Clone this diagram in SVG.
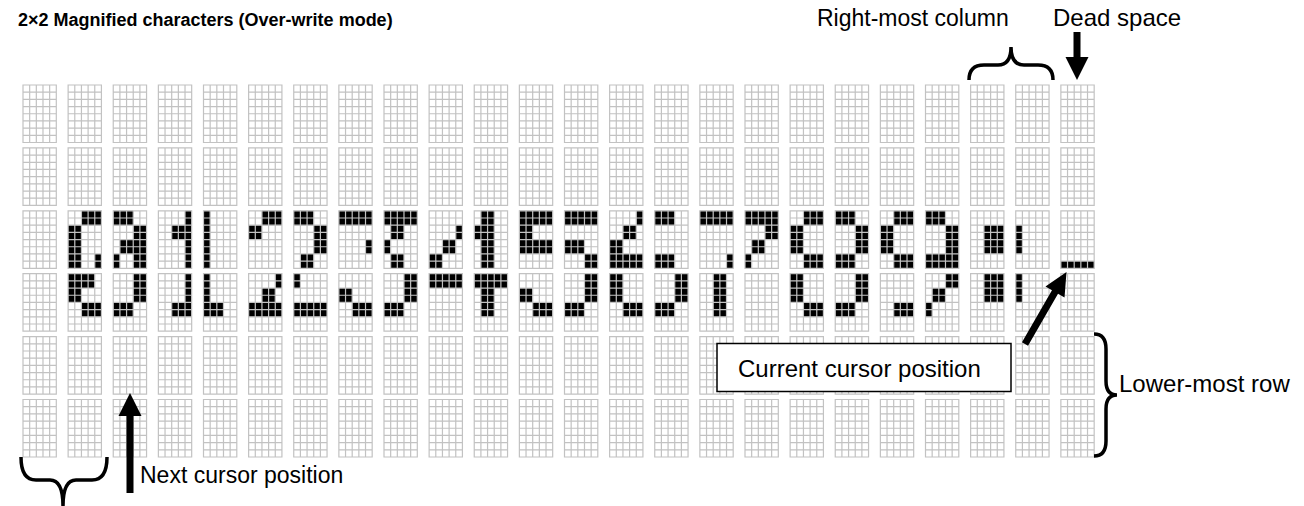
<svg xmlns="http://www.w3.org/2000/svg" xmlns:xlink="http://www.w3.org/1999/xlink" width="1304" height="506" viewBox="0 0 1304 506">
<style>
.gl{fill:none;stroke:#c2c2c2;stroke-width:1.2}
.dot{fill:#000}
.t{font-family:"Liberation Sans",Arial,sans-serif;font-size:23px;fill:#000}
.l24{font-size:24px}
.title{font-weight:bold;font-size:18px}
.br{fill:none;stroke:#000;stroke-width:3.5}
.ar{fill:#000}
.box{fill:#fff;stroke:#000;stroke-width:1.5}
</style>
<defs>
<path id="cg" class="gl" d="M0 0H33.3V57.5H0ZM6.66 0V57.5M13.32 0V57.5M19.98 0V57.5M26.64 0V57.5M0 7.19H33.3M0 14.38H33.3M0 21.56H33.3M0 28.75H33.3M0 35.94H33.3M0 43.13H33.3M0 50.31H33.3"/>
<g id="gridrow">
<use href="#cg" x="23"/><use href="#cg" x="68.125"/><use href="#cg" x="113.25"/><use href="#cg" x="158.375"/><use href="#cg" x="203.5"/><use href="#cg" x="248.625"/><use href="#cg" x="293.75"/><use href="#cg" x="338.875"/><use href="#cg" x="384"/><use href="#cg" x="429.125"/><use href="#cg" x="474.25"/><use href="#cg" x="519.375"/><use href="#cg" x="564.5"/><use href="#cg" x="609.625"/><use href="#cg" x="654.75"/><use href="#cg" x="699.875"/><use href="#cg" x="745"/><use href="#cg" x="790.125"/><use href="#cg" x="835.25"/><use href="#cg" x="880.375"/><use href="#cg" x="925.5"/><use href="#cg" x="970.625"/><use href="#cg" x="1015.75"/><use href="#cg" x="1060.875"/>
</g>
</defs>
<rect width="1304" height="506" fill="#fff"/>
<g id="characters" class="dot">
<g id="char-0">
<path transform="translate(68.125 210.8) scale(6.66 7.1875)" d="M2 0h3v2h-3zM0 2h2v6h-2zM4 6h1v2h-1z"/>
<path transform="translate(113.25 210.8) scale(6.66 7.1875)" d="M0 0h3v2h-3zM3 2h2v2h-2zM1 4h4v2h-4zM0 6h1v2h-1zM3 6h2v2h-2z"/>
<path transform="translate(68.125 273.7) scale(6.66 7.1875)" d="M0 0h4v2h-4zM0 2h2v2h-2zM2 4h3v2h-3z"/>
<path transform="translate(113.25 273.7) scale(6.66 7.1875)" d="M3 0h2v4h-2zM0 4h3v2h-3z"/>
</g>
<g id="char-1">
<path transform="translate(158.375 210.8) scale(6.66 7.1875)" d="M4 0h1v8h-1zM2 2h2v2h-2z"/>
<path transform="translate(203.5 210.8) scale(6.66 7.1875)" d="M0 0h1v8h-1z"/>
<path transform="translate(158.375 273.7) scale(6.66 7.1875)" d="M4 0h1v6h-1zM2 4h2v2h-2z"/>
<path transform="translate(203.5 273.7) scale(6.66 7.1875)" d="M0 0h1v6h-1zM1 4h2v2h-2z"/>
</g>
<g id="char-2">
<path transform="translate(248.625 210.8) scale(6.66 7.1875)" d="M2 0h3v2h-3zM0 2h2v2h-2z"/>
<path transform="translate(293.75 210.8) scale(6.66 7.1875)" d="M0 0h3v2h-3zM3 2h2v4h-2zM1 6h2v2h-2z"/>
<path transform="translate(248.625 273.7) scale(6.66 7.1875)" d="M4 0h1v2h-1zM2 2h2v2h-2zM0 4h5v2h-5z"/>
<path transform="translate(293.75 273.7) scale(6.66 7.1875)" d="M0 0h1v2h-1zM0 4h5v2h-5z"/>
</g>
<g id="char-3">
<path transform="translate(338.875 210.8) scale(6.66 7.1875)" d="M0 0h5v2h-5zM4 4h1v2h-1z"/>
<path transform="translate(384 210.8) scale(6.66 7.1875)" d="M0 0h5v2h-5zM1 2h2v2h-2zM0 4h1v2h-1zM1 6h2v2h-2z"/>
<path transform="translate(338.875 273.7) scale(6.66 7.1875)" d="M0 2h2v2h-2zM2 4h3v2h-3z"/>
<path transform="translate(384 273.7) scale(6.66 7.1875)" d="M3 0h2v4h-2zM0 4h3v2h-3z"/>
</g>
<g id="char-4">
<path transform="translate(429.125 210.8) scale(6.66 7.1875)" d="M4 2h1v2h-1zM2 4h2v2h-2zM0 6h2v2h-2z"/>
<path transform="translate(474.25 210.8) scale(6.66 7.1875)" d="M1 0h2v8h-2zM0 2h1v2h-1z"/>
<path transform="translate(429.125 273.7) scale(6.66 7.1875)" d="M0 0h5v2h-5z"/>
<path transform="translate(474.25 273.7) scale(6.66 7.1875)" d="M0 0h5v2h-5zM1 2h2v4h-2z"/>
</g>
<g id="char-5">
<path transform="translate(519.375 210.8) scale(6.66 7.1875)" d="M0 0h5v2h-5zM0 2h2v2h-2zM0 4h5v2h-5z"/>
<path transform="translate(564.5 210.8) scale(6.66 7.1875)" d="M0 0h5v2h-5zM0 4h3v2h-3zM3 6h2v2h-2z"/>
<path transform="translate(519.375 273.7) scale(6.66 7.1875)" d="M0 2h2v2h-2zM2 4h3v2h-3z"/>
<path transform="translate(564.5 273.7) scale(6.66 7.1875)" d="M3 0h2v4h-2zM0 4h3v2h-3z"/>
</g>
<g id="char-6">
<path transform="translate(609.625 210.8) scale(6.66 7.1875)" d="M4 0h1v2h-1zM2 2h2v2h-2zM0 4h2v2h-2zM0 6h5v2h-5z"/>
<path transform="translate(654.75 210.8) scale(6.66 7.1875)" d="M0 0h3v2h-3zM0 6h3v2h-3z"/>
<path transform="translate(609.625 273.7) scale(6.66 7.1875)" d="M0 0h2v4h-2zM2 4h3v2h-3z"/>
<path transform="translate(654.75 273.7) scale(6.66 7.1875)" d="M3 0h2v4h-2zM0 4h3v2h-3z"/>
</g>
<g id="char-7">
<path transform="translate(699.875 210.8) scale(6.66 7.1875)" d="M0 0h5v2h-5zM4 6h1v2h-1z"/>
<path transform="translate(745 210.8) scale(6.66 7.1875)" d="M0 0h5v2h-5zM3 2h2v2h-2zM1 4h2v2h-2zM0 6h1v2h-1z"/>
<path transform="translate(699.875 273.7) scale(6.66 7.1875)" d="M2 0h2v6h-2z"/>
</g>
<g id="char-8">
<path transform="translate(790.125 210.8) scale(6.66 7.1875)" d="M2 0h3v2h-3zM0 2h2v4h-2zM2 6h3v2h-3z"/>
<path transform="translate(835.25 210.8) scale(6.66 7.1875)" d="M0 0h3v2h-3zM3 2h2v4h-2zM0 6h3v2h-3z"/>
<path transform="translate(790.125 273.7) scale(6.66 7.1875)" d="M0 0h2v4h-2zM2 4h3v2h-3z"/>
<path transform="translate(835.25 273.7) scale(6.66 7.1875)" d="M3 0h2v4h-2zM0 4h3v2h-3z"/>
</g>
<g id="char-9">
<path transform="translate(880.375 210.8) scale(6.66 7.1875)" d="M2 0h3v2h-3zM0 2h2v4h-2zM2 6h3v2h-3z"/>
<path transform="translate(925.5 210.8) scale(6.66 7.1875)" d="M0 0h3v2h-3zM3 2h2v4h-2zM0 6h5v2h-5z"/>
<path transform="translate(880.375 273.7) scale(6.66 7.1875)" d="M2 4h3v2h-3z"/>
<path transform="translate(925.5 273.7) scale(6.66 7.1875)" d="M3 0h2v2h-2zM1 2h2v2h-2zM0 4h1v2h-1z"/>
</g>
<g id="char-colon">
<path transform="translate(970.625 210.8) scale(6.66 7.1875)" d="M2 2h3v4h-3z"/>
<path transform="translate(1015.75 210.8) scale(6.66 7.1875)" d="M0 2h1v4h-1z"/>
<path transform="translate(970.625 273.7) scale(6.66 7.1875)" d="M2 0h3v4h-3z"/>
<path transform="translate(1015.75 273.7) scale(6.66 7.1875)" d="M0 0h1v4h-1z"/>
</g>
<g id="cursor">
<path transform="translate(1060.875 210.8) scale(6.66 7.1875)" d="M0 7h5v1h-5z"/>
</g>
</g>
<g id="grid">
<use href="#gridrow" y="85"/>
<use href="#gridrow" y="147.9"/>
<use href="#gridrow" y="210.8"/>
<use href="#gridrow" y="273.7"/>
<use href="#gridrow" y="336.6"/>
<use href="#gridrow" y="399.5"/>
</g>
<g id="title"><text class="t title" x="18" y="26">2×2 Magnified characters (Over-write mode)</text></g>
<g id="connectors">
<path id="arrow-dead" class="ar" d="M1073.5 32V57H1065.5L1077 80L1088.5 57H1080.5V32Z"/>
<path id="arrow-next" class="ar" d="M126.5 493V416H118.5L130 393L141.5 416H133.5V493Z"/>
<path id="arrow-current" class="ar" transform="translate(1025 344) rotate(-60)" d="M0 -3.5H60V-11L83 0L60 11V3.5H0Z"/>
<path id="brace-rightcol" class="br" d="M969 80Q969 65 984 65H998Q1011 65 1011 47Q1011 65 1024 65H1038Q1053 65 1053 80"/>
<path id="brace-bottomleft" class="br" d="M21 457Q21 480 36 480H50Q63 480 63 506Q63 480 76 480H92Q107 480 107 457"/>
<path id="brace-lowerrow" class="br" d="M1094 334Q1106 334 1106 349V381Q1106 395 1117 395Q1106 395 1106 409V441Q1106 456 1094 456"/>
</g>
<g id="label-rightcol"><text class="t" x="817" y="26">Right-most column</text></g>
<g id="label-dead"><text class="t l24" x="1053" y="26">Dead space</text></g>
<g id="label-current"><rect class="box" x="717" y="343.5" width="294" height="48"/><text class="t l24" x="738" y="377">Current cursor position</text></g>
<g id="label-lower"><text class="t l24" x="1119" y="392">Lower-most row</text></g>
<g id="label-next"><text class="t" x="140" y="483">Next cursor position</text></g>
</svg>
